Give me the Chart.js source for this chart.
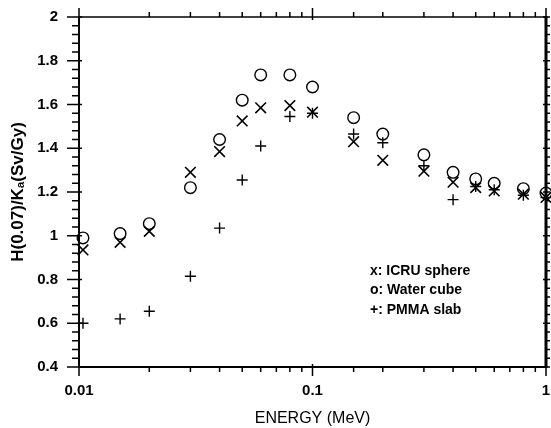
<!DOCTYPE html>
<html>
<head>
<meta charset="utf-8">
<script src="https://cdn.jsdelivr.net/npm/chart.js@4.4.0/dist/chart.umd.min.js"></script>
<style>
  html, body { margin: 0; padding: 0; background: #fff; }
</style>
</head>
<body>
<canvas id="chart" width="551" height="428"></canvas>
<script>
// energies (MeV) and the three phantom series
const energy = [0.0104, 0.015, 0.02, 0.03, 0.04, 0.05, 0.06, 0.08, 0.1, 0.15, 0.2, 0.3, 0.4, 0.5, 0.6, 0.8, 1.0];
const icruSphere = [0.935, 0.97, 1.02, 1.29, 1.385, 1.525, 1.585, 1.595, 1.565, 1.43, 1.345, 1.295, 1.245, 1.22, 1.205, 1.19, 1.175];
const waterCube = [0.99, 1.01, 1.055, 1.22, 1.44, 1.62, 1.735, 1.735, 1.68, 1.54, 1.465, 1.37, 1.29, 1.26, 1.24, 1.215, 1.195];
const pmmaSlab = [0.60, 0.62, 0.655, 0.815, 1.035, 1.255, 1.41, 1.545, 1.56, 1.465, 1.425, 1.32, 1.165, 1.225, 1.21, 1.185, 1.175];

const xLabels = [0.01, 0.1, 1];
const legendLines = ["x: ICRU sphere", "o: Water cube", "+: PMMA slab"];

const FONT = "'Liberation Sans', Arial, sans-serif";

function toPoints(ys) {
    return energy.map((e, i) => ({ x: e, y: ys[i] }));
}

// frame ticks on all four sides, plus top/right border lines
const frameTicks = {
    id: "frameTicks",
    afterDraw(chart) {
        const ctx = chart.ctx;
        const a = chart.chartArea;
        const xs = chart.scales.x;
        const ys = chart.scales.y;
        ctx.save();
        ctx.strokeStyle = "#000";
        ctx.lineCap = "butt";

        // top and right borders
        ctx.lineWidth = 1.5;
        ctx.beginPath();
        ctx.moveTo(a.left, a.top);
        ctx.lineTo(a.right, a.top);
        ctx.stroke();
        ctx.lineWidth = 3;
        ctx.beginPath();
        ctx.moveTo(a.right, a.top - 1);
        ctx.lineTo(a.right, a.bottom + 1);
        ctx.stroke();

        ctx.lineWidth = 1.5;
        ctx.beginPath();
        xs.ticks.forEach((t) => {
            const px = xs.getPixelForValue(t.value);
            const major = xLabels.some((v) => Math.abs(v - t.value) < 1e-9);
            const len = major ? 9 : 5;
            ctx.moveTo(px, a.bottom - (major ? 3 : 0));
            ctx.lineTo(px, a.bottom + len);
            ctx.moveTo(px, a.top + (major ? 3 : 0));
            ctx.lineTo(px, a.top - len);
        });
        // y: majors every 0.2, minors every 0.04
        for (let k = 0; k <= 40; k++) {
            const v = 0.4 + k * 0.04;
            const py = ys.getPixelForValue(v);
            const major = k % 5 === 0;
            ctx.moveTo(a.left - (major ? 12 : 7), py);
            ctx.lineTo(a.left + (major ? 3 : 0), py);
            ctx.moveTo(a.right - (major ? 3 : 0), py);
            ctx.lineTo(a.right + 4, py);
        }
        ctx.stroke();

        // text legend
        ctx.fillStyle = "#000";
        ctx.font = "bold 14px " + FONT;
        ctx.textBaseline = "middle";
        ctx.textAlign = "left";
        legendLines.forEach((s, i) => {
            ctx.fillText(s, a.left + 291, a.top + 254 + i * 19.5);
        });
        ctx.restore();
    }
};

const ctx = document.getElementById("chart").getContext("2d");

const chart = new Chart(ctx, {
    type: "scatter",
    data: {
        datasets: [
            {
                label: "ICRU sphere",
                data: toPoints(icruSphere),
                pointStyle: "crossRot",
                pointRadius: 7.5,
                borderColor: "#000",
                borderWidth: 1.6,
                backgroundColor: "rgba(0,0,0,0)"
            },
            {
                label: "Water cube",
                data: toPoints(waterCube),
                pointStyle: "circle",
                pointRadius: 5.8,
                borderColor: "#000",
                borderWidth: 1.4,
                backgroundColor: "rgba(0,0,0,0)"
            },
            {
                label: "PMMA slab",
                data: toPoints(pmmaSlab),
                pointStyle: "cross",
                pointRadius: 5.5,
                borderColor: "#000",
                borderWidth: 1.4,
                backgroundColor: "rgba(0,0,0,0)"
            }
        ]
    },
    options: {
        responsive: false,
        animation: false,
        devicePixelRatio: 1,
        clip: false,
        layout: { autoPadding: false, padding: { top: 17, right: 5, left: 0, bottom: 0 } },
        plugins: {
            legend: { display: false },
            tooltip: { enabled: false }
        },
        scales: {
            x: {
                type: "logarithmic",
                min: 0.01,
                max: 1,
                afterFit: (scale) => {
                    scale.height = 61;
                    scale.paddingLeft = 0;
                    scale.paddingRight = 0;
                },
                grid: { display: false, drawTicks: false },
                border: { display: true, color: "#000", width: 2 },
                ticks: {
                    autoSkip: false,
                    maxRotation: 0,
                    padding: 15,
                    color: "#000",
                    font: { family: FONT, size: 15, weight: "bold" },
                    callback: (value) => {
                        const hit = xLabels.find((v) => Math.abs(v - value) < 1e-9);
                        return hit === undefined ? "" : String(hit);
                    }
                },
                title: {
                    display: true,
                    text: "ENERGY (MeV)",
                    color: "#000",
                    padding: { top: 4, bottom: 0 },
                    font: { family: FONT, size: 16 }
                }
            },
            y: {
                min: 0.4,
                max: 2,
                afterFit: (scale) => {
                    scale.width = 79;
                    scale.paddingTop = 0;
                    scale.paddingBottom = 0;
                },
                grid: { display: false, drawTicks: false },
                border: { display: true, color: "#000", width: 2 },
                ticks: {
                    stepSize: 0.2,
                    padding: 21,
                    color: "#000",
                    font: { family: FONT, size: 15, weight: "bold" },
                    callback: (value) => String(Math.round(value * 10) / 10)
                },
                title: {
                    display: true,
                    text: "H(0.07)/K\u2090(Sv/Gy)",
                    color: "#000",
                    padding: { top: 8, bottom: 0 },
                    font: { family: FONT, size: 17, weight: "bold" }
                }
            }
        }
    },
    plugins: [frameTicks]
});
</script>
</body>
</html>
